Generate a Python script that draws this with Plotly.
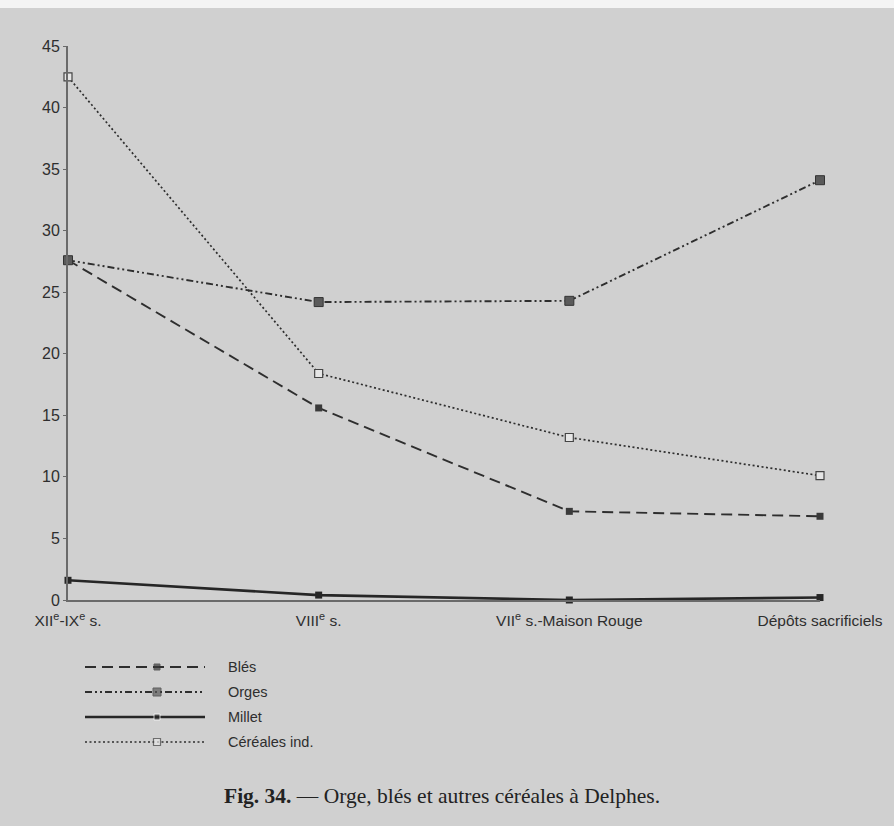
import plotly.graph_objects as go

categories = ["XII<sup>e</sup>-IX<sup>e</sup> s.", "VIII<sup>e</sup> s.",
              "VII<sup>e</sup> s.-Maison Rouge", "Dépôts sacrificiels"]
x_pos = [0, 1, 2, 3]
bles = [27.6, 15.6, 7.2, 6.8]
orges = [27.6, 24.2, 24.3, 34.1]
millet = [1.6, 0.4, 0.0, 0.2]
cereales = [42.5, 18.4, 13.2, 10.1]
y_ticks = [0, 5, 10, 15, 20, 25, 30, 35, 40, 45]
legend_labels = ["Blés", "Orges", "Millet", "Céréales ind."]
caption = "<b>Fig. 34.</b> — Orge, blés et autres céréales à Delphes."

ink = "#2e2e2e"
bg = "#d0d0d0"

series = [
    (bles, dict(color=ink, width=1.9, dash="11px,6px"),
     dict(symbol="square", size=7, color="#3a3a3a")),
    (orges, dict(color=ink, width=1.9, dash="7px,3px,2px,3px,2px,3px"),
     dict(symbol="square", size=9, color="#5a5a5a", line=dict(color="#333", width=1))),
    (millet, dict(color="#262626", width=2.6),
     dict(symbol="square", size=7, color="#262626")),
    (cereales, dict(color=ink, width=1.7, dash="2px,2.5px"),
     dict(symbol="square", size=8, color="#e6e6e6", line=dict(color="#444", width=1.2))),
]

W, H = 894, 826
L, R, T, B = 68, 74, 46, 66
ph = H - T - B  # 714
pw = W - L - R  # 752
main_bottom = (760 - 600) / ph

fig = go.Figure()
for vals, ln, mk in series:
    fig.add_trace(go.Scatter(x=x_pos, y=vals, mode="lines+markers", line=ln,
                             marker=mk, cliponaxis=False, showlegend=False,
                             xaxis="x", yaxis="y"))

# legend samples (drawn on secondary axes)
rows = [1, 2, 3, 4]
row_px = [667, 692, 717, 742]
for i, (vals, ln, mk) in enumerate(series):
    row = rows[i]
    mk2 = dict(mk)
    mk2["size"] = [0, mk["size"] - 1, 0]
    fig.add_trace(go.Scatter(x=[0, 0.6, 1], y=[row, row, row], mode="lines+markers",
                             line=ln, marker=mk2, cliponaxis=False, showlegend=False,
                             xaxis="x2", yaxis="y2", hoverinfo="skip"))
    fig.add_annotation(x=(226 - L) / pw, y=(760 - row_px[i]) / ph, xref="paper",
                       yref="paper", text=legend_labels[i], showarrow=False,
                       xanchor="left", yanchor="middle",
                       font=dict(family="Liberation Sans, Arial", size=14.5, color=ink))

fig.update_layout(
    width=W, height=H,
    margin=dict(l=L, r=R, t=T, b=B),
    paper_bgcolor=bg, plot_bgcolor=bg,
    font=dict(family="Liberation Sans, Arial", size=15.5, color=ink),
    xaxis=dict(range=[0, 3], tickvals=x_pos, ticktext=categories, showgrid=False,
               zeroline=False, showline=True, linecolor="#6a6a6a", linewidth=1.5,
               ticks="", ticklabelstandoff=6, tickfont=dict(size=15.5, color=ink),
               fixedrange=True, domain=[0, 1], anchor="y"),
    yaxis=dict(range=[0, 45], tickvals=y_ticks, showgrid=False, zeroline=False,
               showline=True, linecolor="#6a6a6a", linewidth=2, ticks="outside",
               ticklen=3, tickcolor="#6a6a6a", tickfont=dict(size=16, color=ink),
               domain=[main_bottom, 1], anchor="x"),
    xaxis2=dict(range=[0, 1], domain=[(85 - L) / pw, (205 - L) / pw], visible=False,
                anchor="y2"),
    yaxis2=dict(range=[4.5, 0.5], domain=[(760 - 754.5) / ph, (760 - 654.5) / ph],
                visible=False, anchor="x2"),
)

fig.add_annotation(x=(442 - L) / pw, y=(760 - 796) / ph, xref="paper", yref="paper",
                   text=caption, showarrow=False, xanchor="center", yanchor="middle",
                   font=dict(family="Liberation Serif, Times New Roman", size=21.5, color="#222"))

fig.add_shape(type="rect", xref="paper", yref="paper", x0=-L / pw, x1=1 + R / pw,
              y0=1 + (T - 8) / ph, y1=1 + T / ph, fillcolor="#f4f4f4", line_width=0,
              layer="below")

fig.write_html("out.html", config={"displayModeBar": False},
               post_script="document.body.style.margin='0';"
                           "document.body.style.background='#d0d0d0';")
